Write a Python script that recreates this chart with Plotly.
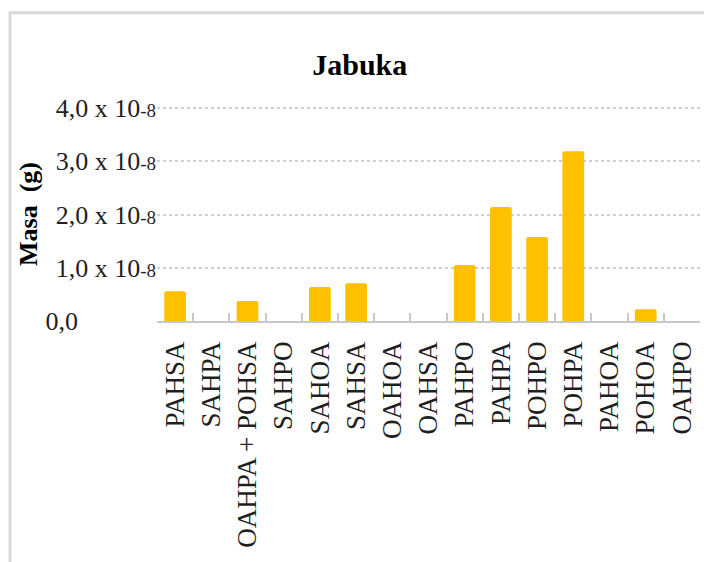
import plotly.graph_objects as go

# Mass of each compound class in apple ("Jabuka"), in units of 1e-8 g
categories = ["PAHSA", "SAHPA", "OAHPA + POHSA", "SAHPO", "SAHOA", "SAHSA",
              "OAHOA", "OAHSA", "PAHPO", "PAHPA", "POHPO", "POHPA",
              "PAHOA", "POHOA", "OAHPO"]
masa = [0.56, 0, 0.375, 0, 0.64, 0.71, 0, 0, 1.05, 2.14, 1.58, 3.19, 0, 0.22, 0]

tick_vals = [0, 1, 2, 3, 4]
exp = "<span style='font-size:19px'>-8</span>"
nb = "\u00a0"
tick_text = ["0,0" + nb * 12, "1,0 x 10" + exp, "2,0 x 10" + exp,
             "3,0 x 10" + exp, "4,0 x 10" + exp]

serif = "Liberation Serif, Times New Roman, serif"
text_col = "#1f1f1f"

fig = go.Figure(go.Bar(
    x=categories,
    y=masa,
    marker=dict(color="#FFC000", line=dict(width=0), cornerradius=2),
    width=0.6,
))

fig.update_layout(
    width=704, height=562,
    margin=dict(l=157, r=4, t=107, b=241),
    paper_bgcolor="white",
    plot_bgcolor="white",
    showlegend=False,
    font=dict(family=serif, color=text_col),
    title=dict(text="<b>Jabuka</b>", x=0.511, xanchor="center",
               xref="container", y=0.885, yanchor="middle",
               font=dict(family=serif, size=30, color="black")),
    xaxis=dict(
        type="category",
        tickangle=-90,
        tickfont=dict(family=serif, size=27, color=text_col),
        ticklabelstandoff=8,
        showline=True, linecolor="#c8c8c8", linewidth=1.5,
        ticks="inside", tickson="boundaries", ticklen=8,
        tickcolor="#c8c8c8", tickwidth=1.5,
        showgrid=False,
        range=[-0.5, 14.5],
    ),
    yaxis=dict(
        range=[0, 4.02],
        tickvals=tick_vals,
        ticktext=tick_text,
        tickfont=dict(family=serif, size=26, color=text_col),
        showgrid=True, gridcolor="#cfcfcf", griddash="dot", gridwidth=1.5,
        zeroline=False,
        showline=False,
        ticks="",
        title=dict(text="<b>Masa" + nb * 2 + "(g)</b>", standoff=0,
                   font=dict(family=serif, size=26, color="black")),
    ),
)

# Light frame around the chart
fig.add_shape(type="rect", xref="paper", yref="paper",
              x0=-0.2707, x1=1.2, y0=-2.0, y1=1.441,
              line=dict(color="#d9d9d9", width=3), layer="below")

fig.write_html("out.html")
